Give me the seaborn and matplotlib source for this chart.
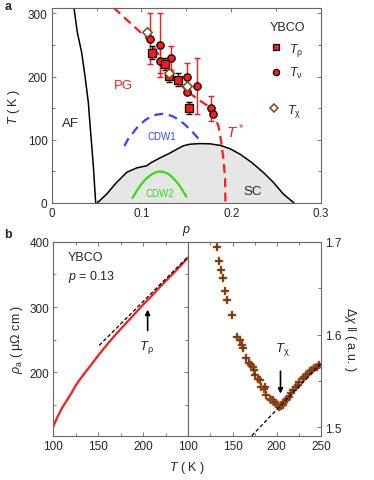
import numpy as np
import pandas as pd
import matplotlib
matplotlib.use("Agg")
import matplotlib.pyplot as plt
import seaborn as sns
from matplotlib.lines import Line2D
from matplotlib.ticker import MultipleLocator

# ---------------- data: panel a (phase diagram) ----------------
af_p = [0.0249, 0.0286, 0.0334, 0.0371, 0.0408, 0.0434, 0.0464, 0.0490]
af_T = [307.5, 269.6, 238, 201, 159, 111.6, 58.9, 0]

sc_p = [0.0508, 0.0613, 0.0724, 0.0836, 0.0947, 0.1059, 0.111, 0.1216, 0.1318, 0.1393,
        0.1467, 0.154, 0.165, 0.1764, 0.188, 0.1987, 0.21, 0.2229, 0.236, 0.247, 0.258, 0.27]
sc_T = [0, 14.2, 32.7, 48.5, 55.5, 59, 64, 72, 79, 85,
        90.5, 93, 94, 93.6, 91, 85.8, 77, 64, 48, 32.6, 14.2, 0]

cdw1_p = [0.081, 0.085, 0.09, 0.095, 0.10, 0.105, 0.11, 0.116, 0.123, 0.129, 0.135, 0.14,
          0.145, 0.150, 0.155, 0.160, 0.165]
cdw1_T = [90, 101, 110, 119, 126, 132, 136, 139.5, 141, 140, 137, 133,
          128, 122, 115, 107.5, 99]

cdw2_p = [0.09, 0.095, 0.10, 0.105, 0.11, 0.115, 0.12, 0.125, 0.13, 0.135, 0.14, 0.145, 0.15]
cdw2_T = [8, 20, 30, 38, 44, 48, 50, 49, 46, 40, 32, 22, 10]

tstar_p = [0.069, 0.1096, 0.130, 0.1505, 0.162, 0.1765, 0.1804, 0.1857, 0.1884, 0.1913, 0.1932, 0.1935]
tstar_T = [309, 256, 209, 177, 165, 151, 140, 122, 101, 69.5, 38, 0]

trho_p = [0.1115, 0.1263, 0.1308, 0.1405, 0.153]
trho_T = [238, 220, 201, 195, 150]
trho_err = [10, 10, 10, 10, 10]

tnu_p = [0.110, 0.1205, 0.1205, 0.1324, 0.1505, 0.1505, 0.1616, 0.1773, 0.1802]
tnu_T = [260, 250, 225, 230, 200, 175, 185, 150, 140]
tnu_err = [40, 50, 20, 19, 21, 0, 45, 20, 0]

tchi_p = [0.1059, 0.1308, 0.1512]
tchi_T = [270, 205, 185]

# ---------------- data: panel b ----------------
rho_T = [100, 105, 110, 115, 120, 125, 130, 140, 150, 160, 170, 180, 190, 200, 210, 220, 230, 240, 250]
rho_v = [117, 133, 146, 157, 168, 180, 190, 208, 226, 243, 259, 274, 289, 304, 318, 333, 347, 361, 376]
rho_fit_T = [151, 250]
rho_fit_v = [241.2, 377.6]

chi_T = [131.9, 134.5, 136.4, 139.3, 142.0, 144.3, 149.4, 155.1, 158.1, 160.7, 162.0,
         165.2, 168.2, 171.2, 173.0, 174.2, 175.7, 178.7, 180.6, 182.5, 185.4, 186.2,
         188.1, 191.8, 193.7, 195.5, 197.4, 199.3, 201.0, 203.0, 204.5, 206.7, 208.5,
         210.6, 212.0, 214.3, 216.0, 218.0, 221.8, 223.5, 225.5, 229.2, 231.1, 233.0,
         234.8, 237.9, 239.8, 242.4, 245.0, 248.0]
chi_v = [1.6939, 1.6793, 1.6692, 1.6613, 1.6467, 1.6377, 1.6214, 1.5978, 1.5942, 1.5888, 1.5860,
         1.5743, 1.5689, 1.5670, 1.5652, 1.5616, 1.5562, 1.5526, 1.5508, 1.5435, 1.5417, 1.5430,
         1.5345, 1.5309, 1.5290, 1.5290, 1.5272, 1.5254, 1.5240, 1.5217, 1.5225, 1.5236, 1.5270,
         1.5290, 1.5310, 1.5326, 1.5370, 1.5399, 1.5435, 1.5460, 1.5489, 1.5526, 1.5543, 1.5562,
         1.5580, 1.5605, 1.5616, 1.5635, 1.5650, 1.5670]
chi_fit_T = [171.7, 250]
chi_fit_v = [1.491, 1.569]

# ---------------- style ----------------
sns.set_style("ticks")
plt.rcParams["font.family"] = ["Liberation Sans", "DejaVu Sans"]
plt.rcParams["mathtext.fontset"] = "custom"
plt.rcParams["mathtext.rm"] = "Liberation Sans"
plt.rcParams["mathtext.it"] = "Liberation Sans:italic"
plt.rcParams["mathtext.bf"] = "Liberation Sans:bold"
FS = 8.5
SP = "#666666"
RED = "#ff1a1a"
BROWN = "#7a3208"


def style_axes(ax):
    for s in ax.spines.values():
        s.set_color(SP)
        s.set_linewidth(0.8)
    ax.tick_params(which="both", direction="in", top=True, right=True,
                   labelsize=FS, color=SP, width=0.6, pad=3)
    ax.tick_params(which="major", length=3)
    ax.tick_params(which="minor", length=2)


fig = plt.figure(figsize=(3.74, 4.81), dpi=100)

# ================= panel a =================
ax = fig.add_axes([0.1382, 0.5759, 0.7201, 0.4048])
ax.fill_between(sc_p, sc_T, 0, color="#e6e6e6", zorder=1)
sns.lineplot(x=sc_p, y=sc_T, ax=ax, color="black", lw=1.1, sort=False, estimator=None, zorder=2)
sns.lineplot(x=af_p, y=af_T, ax=ax, color="black", lw=1.1, sort=False, estimator=None, zorder=2)
sns.lineplot(x=cdw2_p, y=cdw2_T, ax=ax, color="#33dd11", lw=1.6, sort=False, estimator=None, zorder=2)
ax.plot(cdw1_p, cdw1_T, color="#3344ff", lw=1.6, dashes=(4, 2.6), zorder=2)
ax.plot(tstar_p, tstar_T, color=RED, lw=1.6, dashes=(4, 2.4), zorder=2)

# error bars
ax.errorbar(tnu_p, tnu_T, yerr=tnu_err, fmt="none", ecolor=RED, elinewidth=1.0,
            capsize=2, capthick=1.0, zorder=3)
ax.errorbar(trho_p, trho_T, yerr=trho_err, fmt="none", ecolor="black", elinewidth=1.0,
            capsize=2, capthick=1.0, zorder=3)
sns.scatterplot(x=tnu_p, y=tnu_T, ax=ax, marker="o", s=28, color=RED,
                edgecolor="black", linewidth=0.9, zorder=4)
sns.scatterplot(x=trho_p, y=trho_T, ax=ax, marker="s", s=30, color=RED,
                edgecolor="black", linewidth=0.9, zorder=4)
sns.scatterplot(x=tchi_p, y=tchi_T, ax=ax, marker="D", s=24, color="white",
                edgecolor="#8b4513", linewidth=1.1, zorder=5)

ax.set_xlim(0, 0.3)
ax.set_ylim(0, 308)
ax.set_xticks([0, 0.1, 0.2, 0.3])
ax.set_xticklabels(["0", "0.1", "0.2", "0.3"])
ax.set_yticks([0, 100, 200, 300])
ax.xaxis.set_minor_locator(MultipleLocator(0.05))
ax.yaxis.set_minor_locator(MultipleLocator(50))
style_axes(ax)
ax.set_ylabel("$T$ ( K )", fontsize=FS + 0.5, labelpad=4)
ax.set_xlabel("$p$", fontsize=FS + 0.5, labelpad=3)

ax.text(0.0204, 126, "AF", fontsize=9.5, ha="center", va="center")
ax.text(0.0795, 186, "PG", fontsize=9.5, ha="center", va="center", color=RED)
ax.text(0.123, 106, "CDW1", fontsize=7, ha="center", va="center", color="#3344ff")
ax.text(0.1207, 16, "CDW2", fontsize=7, ha="center", va="center", color="#33dd11")
ax.text(0.224, 19, "SC", fontsize=9.5, ha="center", va="center")
ax.text(0.2044, 114, "$T^*$", fontsize=11, ha="center", va="center", color=RED)

h_rho = Line2D([], [], ls="none", marker="s", ms=4.5, mfc=RED, mec="black", mew=0.9)
h_nu = Line2D([], [], ls="none", marker="o", ms=4.5, mfc=RED, mec="black", mew=0.9)
h_chi = Line2D([], [], ls="none", marker="D", ms=4.0, mfc="white", mec="#8b4513", mew=1.1)
leg1 = ax.legend([h_rho, h_nu], [r"$T_{\rm \rho}$", r"$T_{\rm \nu}$"], title="YBCO",
                 loc="upper left", bbox_to_anchor=(0.79, 0.96), frameon=False,
                 fontsize=FS + 0.5, title_fontsize=FS + 0.5, handlelength=0.8,
                 handletextpad=0.6, labelspacing=0.6, borderaxespad=0)
ax.add_artist(leg1)
ax.legend([h_chi], [r"$T_{\rm \chi}$"], loc="upper left", bbox_to_anchor=(0.79, 0.545),
          frameon=False, fontsize=FS + 0.5, handlelength=0.8, handletextpad=0.6,
          borderaxespad=0)

# ================= panel b left =================
bl = fig.add_axes([0.1425, 0.0921, 0.3610, 0.4033])
sns.lineplot(x=rho_T, y=rho_v, ax=bl, color=RED, lw=1.6, sort=False, estimator=None)
bl.plot(rho_fit_T, rho_fit_v, color="black", lw=0.9, dashes=(3, 1.8))
bl.set_xlim(100, 250)
bl.set_ylim(103, 400)
bl.set_xticks([100, 150, 200])
bl.set_yticks([200, 300, 400])
bl.xaxis.set_minor_locator(MultipleLocator(25))
bl.yaxis.set_minor_locator(MultipleLocator(50))
style_axes(bl)
bl.set_ylabel(r"$\rho_{\rm a}$ ( μΩ cm )", fontsize=FS + 0.5, labelpad=3)
bl.text(0.11, 0.92, "YBCO", transform=bl.transAxes, fontsize=FS + 0.5, va="center")
bl.text(0.11, 0.825, "$p$ = 0.13", transform=bl.transAxes, fontsize=FS + 0.5, va="center")
bl.annotate("", xy=(204.8, 296), xytext=(204.8, 264),
            arrowprops=dict(arrowstyle="-|>", color="black", lw=1.2,
                            mutation_scale=7, shrinkA=0, shrinkB=0))
bl.text(204, 240, r"$T_{\rm \rho}$", fontsize=FS + 1, ha="center", va="center")

# ================= panel b right =================
br = fig.add_axes([0.5035, 0.0921, 0.3548, 0.4033])
sns.scatterplot(x=chi_T, y=chi_v, ax=br, marker="P", s=34, color=BROWN,
                edgecolor="#b07040", linewidth=0.3, zorder=3)
br.plot(chi_fit_T, chi_fit_v, color="black", lw=0.9, dashes=(3, 1.8), zorder=4)
br.set_xlim(100, 250)
br.set_ylim(1.491, 1.7)
br.set_xticks([100, 150, 200, 250])
br.set_yticks([1.5, 1.6, 1.7])
br.set_yticklabels(["1.5", "1.6", "1.7"])
br.xaxis.set_minor_locator(MultipleLocator(25))
br.yaxis.set_minor_locator(MultipleLocator(0.05))
style_axes(br)
br.yaxis.tick_right()
br.tick_params(which="both", left=False, right=True, labelleft=False, labelright=True)
br.yaxis.set_label_position("right")
br.set_ylabel("Δ$\\chi$ ‖ ( a.u. )", fontsize=FS + 0.5, rotation=270, labelpad=12)
br.annotate("", xy=(204.2, 1.5363), xytext=(204.2, 1.5605),
            arrowprops=dict(arrowstyle="-|>", color="black", lw=1.2,
                            mutation_scale=7, shrinkA=0, shrinkB=0))
br.text(206.7, 1.5845, r"$T_{\rm \chi}$", fontsize=FS + 1, ha="center", va="center")

fig.text(0.5, 0.027, "$T$ ( K )", fontsize=FS + 0.5, ha="center", va="center")
fig.text(0.012, 0.985, "a", fontsize=9, fontweight="bold", va="center")
fig.text(0.012, 0.512, "b", fontsize=9, fontweight="bold", va="center")

fig.savefig("out.png", dpi=100)
